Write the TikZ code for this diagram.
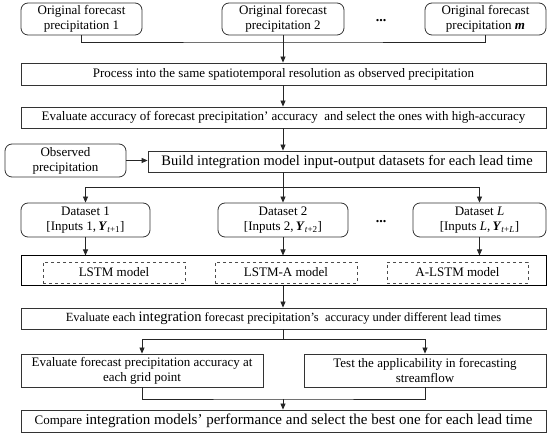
\documentclass[tikz,border=0pt]{standalone}
\usepackage{fontspec}
\setmainfont{Liberation Serif}
\usetikzlibrary{arrows.meta}
\begin{document}
\begin{tikzpicture}[x=1pt,y=-1pt,
  box/.style={draw=black!80, line width=0.8pt, align=center, inner sep=0pt, font=\fontsize{13}{15}\selectfont},
  rbox/.style={box, rounded corners=7pt},
  dbox/.style={box, dashed, draw=black!70},
  conn/.style={line width=0.8pt, black!85},
  arr/.style={conn, -{Triangle[length=6pt,width=5pt]}},
  dots/.style={font=\fontsize{14}{15}\selectfont\bfseries},
  big/.style={font=\fontsize{14.5}{16}\selectfont}]
\useasboundingbox (0,0) rectangle (550,435);
% top row
\node[rbox, minimum width=121pt, minimum height=32pt] (b1) at (81.5,19) {Original forecast\\precipitation 1};
\node[rbox, minimum width=122pt, minimum height=32pt] (b2) at (283,19) {Original forecast\\precipitation 2};
\node[dots] (d1) at (381,21) {...};
\node[rbox, minimum width=121pt, minimum height=32pt] (bm) at (485.5,19) {Original forecast\\precipitation \textbf{\textit{m}}};
\coordinate (j1) at (283,42);
\draw[conn] (b1.south) |- (j1) -| (bm.south);
% process
\node[box, minimum width=525pt, minimum height=22pt] (proc) at (283.5,74) {Process into the same spatiotemporal resolution as observed precipitation};
\draw[arr] (b2.south) -- (b2.south |- proc.north);
\node[box, minimum width=525pt, minimum height=21pt] (eval) at (283.5,117.5) {Evaluate accuracy of forecast precipitation' accuracy\ \ and select the ones with high-accuracy};
\draw[arr] (b2.south |- proc.south) -- (b2.south |- eval.north);
% observed + build
\node[rbox, minimum width=121pt, minimum height=33pt] (obs) at (65.5,160.5) {Observed\\precipitation};
\node[box, big, minimum width=398pt, minimum height=21pt] (build) at (347,161.5) {Build integration model input-output datasets for each lead time};
\draw[arr] (obs.east) -- (obs.east -| build.west);
\draw[arr] (b2.south |- eval.south) -- (b2.south |- build.north);
% datasets
\node[rbox, minimum width=129pt, minimum height=34pt] (ds1) at (85.5,220) {Dataset 1\\{[}Inputs 1,\,\textbf{\textit{Y}}\textsubscript{\textit{t}+1}{]}};
\node[rbox, minimum width=130pt, minimum height=34pt] (ds2) at (283,220) {Dataset 2\\{[}Inputs 2,\,\textbf{\textit{Y}}\textsubscript{\textit{t}+2}{]}};
\node[dots] (d2) at (381,222) {...};
\node[rbox, minimum width=133pt, minimum height=34pt] (dsL) at (479.5,220) {Dataset \textit{L}\\{[}Inputs \textit{L},\,\textbf{\textit{Y}}\textsubscript{\textit{t}+\textit{L}}{]}};
\coordinate (j2) at (283,187);
\draw[conn] (b2.south |- build.south) -- (j2);
\draw[arr] (j2) -| (ds1.north);
\draw[arr] (j2) -| (dsL.north);
\draw[arr] (j2) -- (ds2.north);
% models
\node[box, line width=1pt, draw=black, minimum width=525pt, minimum height=30pt] (mod) at (283.5,271) {};
\node[dbox, minimum width=142pt, minimum height=21pt] (m1) at (114,272.5) {LSTM model};
\node[dbox, minimum width=142pt, minimum height=21pt] (m2) at (286,272.5) {LSTM-A model};
\node[dbox, minimum width=141pt, minimum height=21pt] (m3) at (457.5,272.5) {A-LSTM model};
\draw[arr] (ds1.south) -- (ds1.south |- mod.north);
\draw[arr] (ds2.south) -- (ds2.south |- mod.north);
\draw[arr] (dsL.south) -- (dsL.south |- mod.north);
% evaluate each
\node[box, font=\fontsize{12.5}{15}\selectfont, minimum width=525pt, minimum height=21pt] (ee) at (283.5,318.5) {Evaluate each {\fontsize{14.5}{16}\selectfont integration} forecast precipitation's\ \ accuracy under different lead times};
\draw[arr] (ds2.south |- mod.south) -- (ds2.south |- ee.north);
\node[box, minimum width=242pt, minimum height=33pt] (lb) at (142,370.5) {Evaluate forecast precipitation accuracy at\\each grid point};
\node[box, minimum width=242pt, minimum height=33pt] (rb) at (425,370.5) {Test the applicability in forecasting\\streamflow};
\coordinate (j3) at (283,339);
\draw[conn] (ds2.south |- ee.south) -- (j3);
\draw[arr] (j3) -| (lb.north);
\draw[arr] (j3) -| (rb.north);
% compare
\node[box, font=\fontsize{13}{15}\selectfont, minimum width=525pt, minimum height=22pt] (cmp) at (283.5,421) {Compare {\fontsize{15}{16}\selectfont integration models' performance and select the best one for each lead time}};
\coordinate (j4) at (283,399);
\draw[conn] (lb.south) |- (j4) -| (rb.south);
\draw[arr] (j4) -- (j4 |- cmp.north);
\end{tikzpicture}
\end{document}
